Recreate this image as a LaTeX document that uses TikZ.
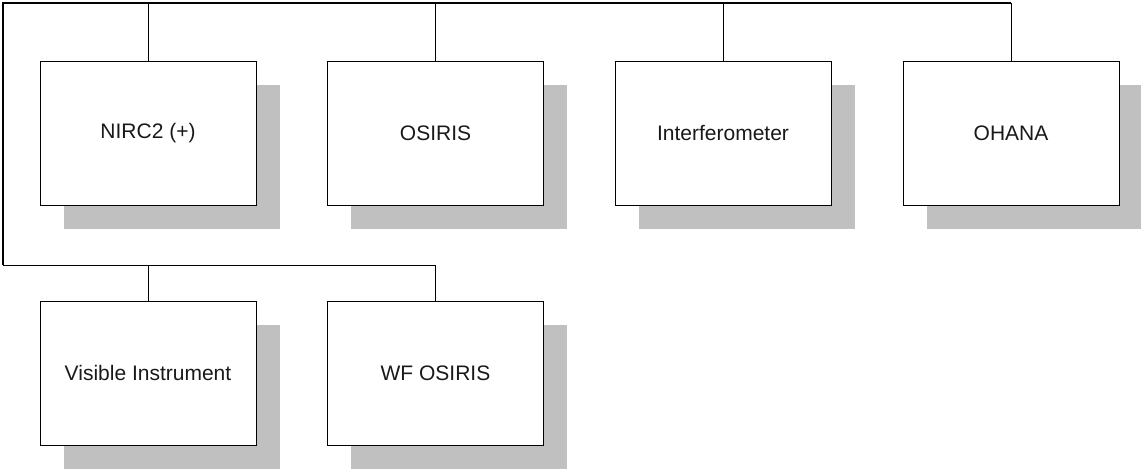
\documentclass[tikz,border=0pt]{standalone}
\usepackage{fontspec}
\setmainfont{Liberation Sans}
\usetikzlibrary{shadows}
\definecolor{shadowgray}{RGB}{192,192,192}
\begin{document}
\begin{tikzpicture}[x=0.5pt,y=-0.5pt]
        \tikzstyle{instbox}=[draw=black, line width=0.5pt, fill=white, minimum width=108pt, minimum height=72pt,
          inner sep=0pt, font=\fontsize{10.5}{12}\selectfont, text=black!90,
          drop shadow={shadow xshift=11.75pt, shadow yshift=-12pt, fill=shadowgray, opacity=1}]
        \tikzstyle{bus}=[draw=black, line width=0.5pt]
        \useasboundingbox (0,0) rectangle (1141,471);
        % first row
        \node [instbox] (nirc) at (148,133) {NIRC2 (+)};
        \node [instbox] (osiris) at (435.5,133) {OSIRIS};
        \node [instbox] (interf) at (723,133) {Interferometer};
        \node [instbox] (ohana) at (1011,133) {OHANA};
        % second row
        \node [instbox] (visible) at (148,373) {Visible Instrument};
        \node [instbox] (wfosiris) at (435.5,373) {WF OSIRIS};
        % bus lines
        \coordinate (tl) at (3,3);
        \coordinate (bl) at (3,265);
        \draw [bus] (nirc.north) -- (nirc.north |- tl);
        \draw [bus] (osiris.north) -- (osiris.north |- tl);
        \draw [bus] (interf.north) -- (interf.north |- tl);
        \draw [bus] (ohana.north) -- (ohana.north |- tl);
        \draw [bus] (bl) -| (wfosiris.north);
        \draw [bus] (visible.north) -- (visible.north |- bl);
        \draw [bus, line width=0.8pt] (bl) -- (tl) -- (tl -| ohana.north);
\end{tikzpicture}
\end{document}
